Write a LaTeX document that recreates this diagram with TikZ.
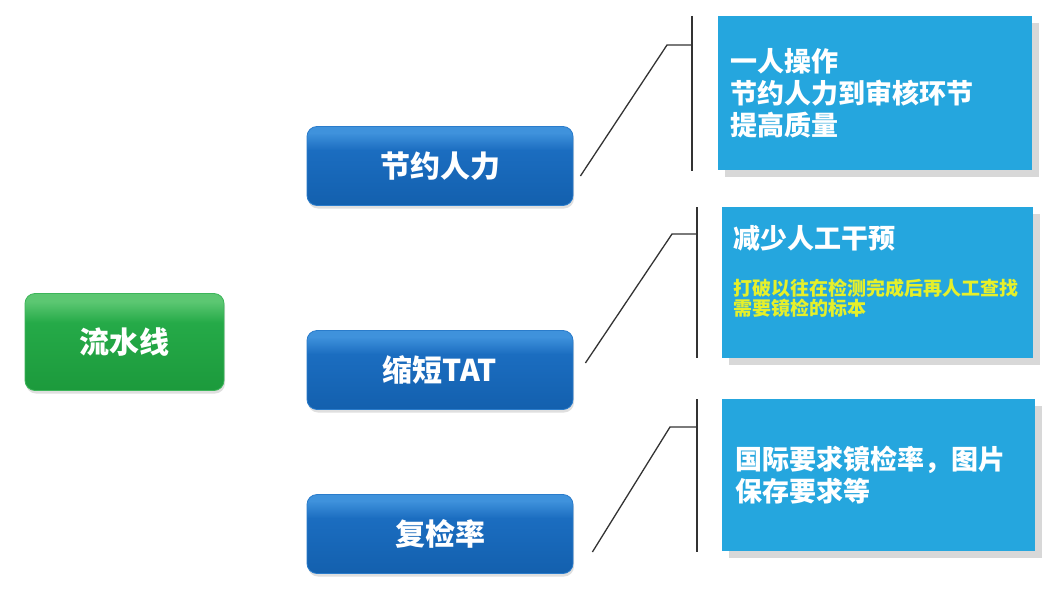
\documentclass[tikz,border=0pt]{standalone}
\usepackage{fontspec}
\setmainfont{Noto Sans CJK SC}
\usetikzlibrary{shadows,calc}
\definecolor{gtop}{HTML}{5CC772}
\definecolor{gmid}{HTML}{25AA48}
\definecolor{gbot}{HTML}{1C9A3C}
\definecolor{gline}{HTML}{3DB55A}
\definecolor{btop}{HTML}{3F92DC}
\definecolor{bmid}{HTML}{1B6DC0}
\definecolor{bbot}{HTML}{1360AE}
\definecolor{bline}{HTML}{2A7CCB}
\definecolor{infoblue}{HTML}{25A6DE}
\definecolor{yel}{HTML}{E6F02A}
\definecolor{conncol}{HTML}{333333}
\pgfdeclareverticalshading{blueshade}{100bp}{color(0bp)=(bbot); color(25bp)=(bbot); color(60bp)=(bmid); color(71bp)=(btop); color(100bp)=(btop)}
\pgfdeclareverticalshading{greenshade}{100bp}{color(0bp)=(gbot); color(25bp)=(gbot); color(60bp)=(gmid); color(71bp)=(gtop); color(100bp)=(gtop)}
\begin{document}
\begin{tikzpicture}[x=1pt,y=-1pt,
  greenbox/.style={rounded corners=10pt, minimum width=199pt, minimum height=97pt,
    shading=greenshade, draw=gline, line width=0.8pt,
    drop shadow={opacity=0.25, shadow xshift=1pt, shadow yshift=-3pt},
    text=white, font=\fontsize{30}{36}\selectfont\bfseries},
  bluebox/.style={rounded corners=10pt, minimum width=266pt, minimum height=79pt,
    shading=blueshade, draw=bline, line width=0.8pt,
    drop shadow={opacity=0.25, shadow xshift=1pt, shadow yshift=-3pt},
    text=white, font=\fontsize{30}{36}\selectfont\bfseries},
  infobox/.style={fill=infoblue, inner ysep=0pt, align=left, text=white,
    drop shadow={opacity=0.3, shadow xshift=7pt, shadow yshift=-7pt, fill=gray},
    font=\fontsize{27}{32}\selectfont\bfseries},
  conn/.style={draw=conncol, line width=1.3pt}
]
\useasboundingbox[fill=white] (0,0) rectangle (1059,599);

% left node
\node[greenbox] (g) at (124.5,342) {流水线};

% middle nodes
\node[bluebox] (b1) at (440,166) {节约人力};
\node[bluebox] (b2) at (440,370) {缩短TAT};
\node[bluebox] (b3) at (440,534) {复检率};

% info boxes
\node[infobox, inner xsep=12pt, text width=290pt, minimum height=154pt] (r1) at (875,93)
  {一人操作\\节约人力到审核环节\\提高质量};
\node[infobox, inner xsep=11pt, text width=289pt, minimum height=151pt] (r2) at (877.5,282.5)
  {\parbox{289pt}{\raggedright{\fontsize{27}{32}\selectfont 减少人工干预\par}\vspace{27pt}%
  {\color{yel}\fontsize{19}{20}\selectfont 打破以往在检测完成后再人工查找\par 需要镜检的标本\par}\vspace{22pt}}};
\node[infobox, inner xsep=13pt, text width=287pt, minimum height=152pt] (r3) at (878.5,475)
  {国际要求镜检率，图片\\保存要求等};

% bracket coordinates
\coordinate (v1a) at (692,16);  \coordinate (v1b) at (692,171);
\coordinate (k1) at (667,45);   \coordinate (t1) at (692,45);
\coordinate (v2a) at (697,207); \coordinate (v2b) at (697,358);
\coordinate (k2) at (672,234);  \coordinate (t2) at (697,234);
\coordinate (v3a) at (697,399); \coordinate (v3b) at (697,552);
\coordinate (k3) at (670,427);  \coordinate (t3) at (697,427);

% connectors
\draw[conn] (v1a) -- (v1b);
\draw[conn] ($(b1.east)+(7,10)$) -- (k1) -- (t1);
\draw[conn] (v2a) -- (v2b);
\draw[conn] ($(b2.east)+(12,-7)$) -- (k2) -- (t2);
\draw[conn] (v3a) -- (v3b);
\draw[conn] ($(b3.east)+(19,18)$) -- (k3) -- (t3);
\end{tikzpicture}
\end{document}
